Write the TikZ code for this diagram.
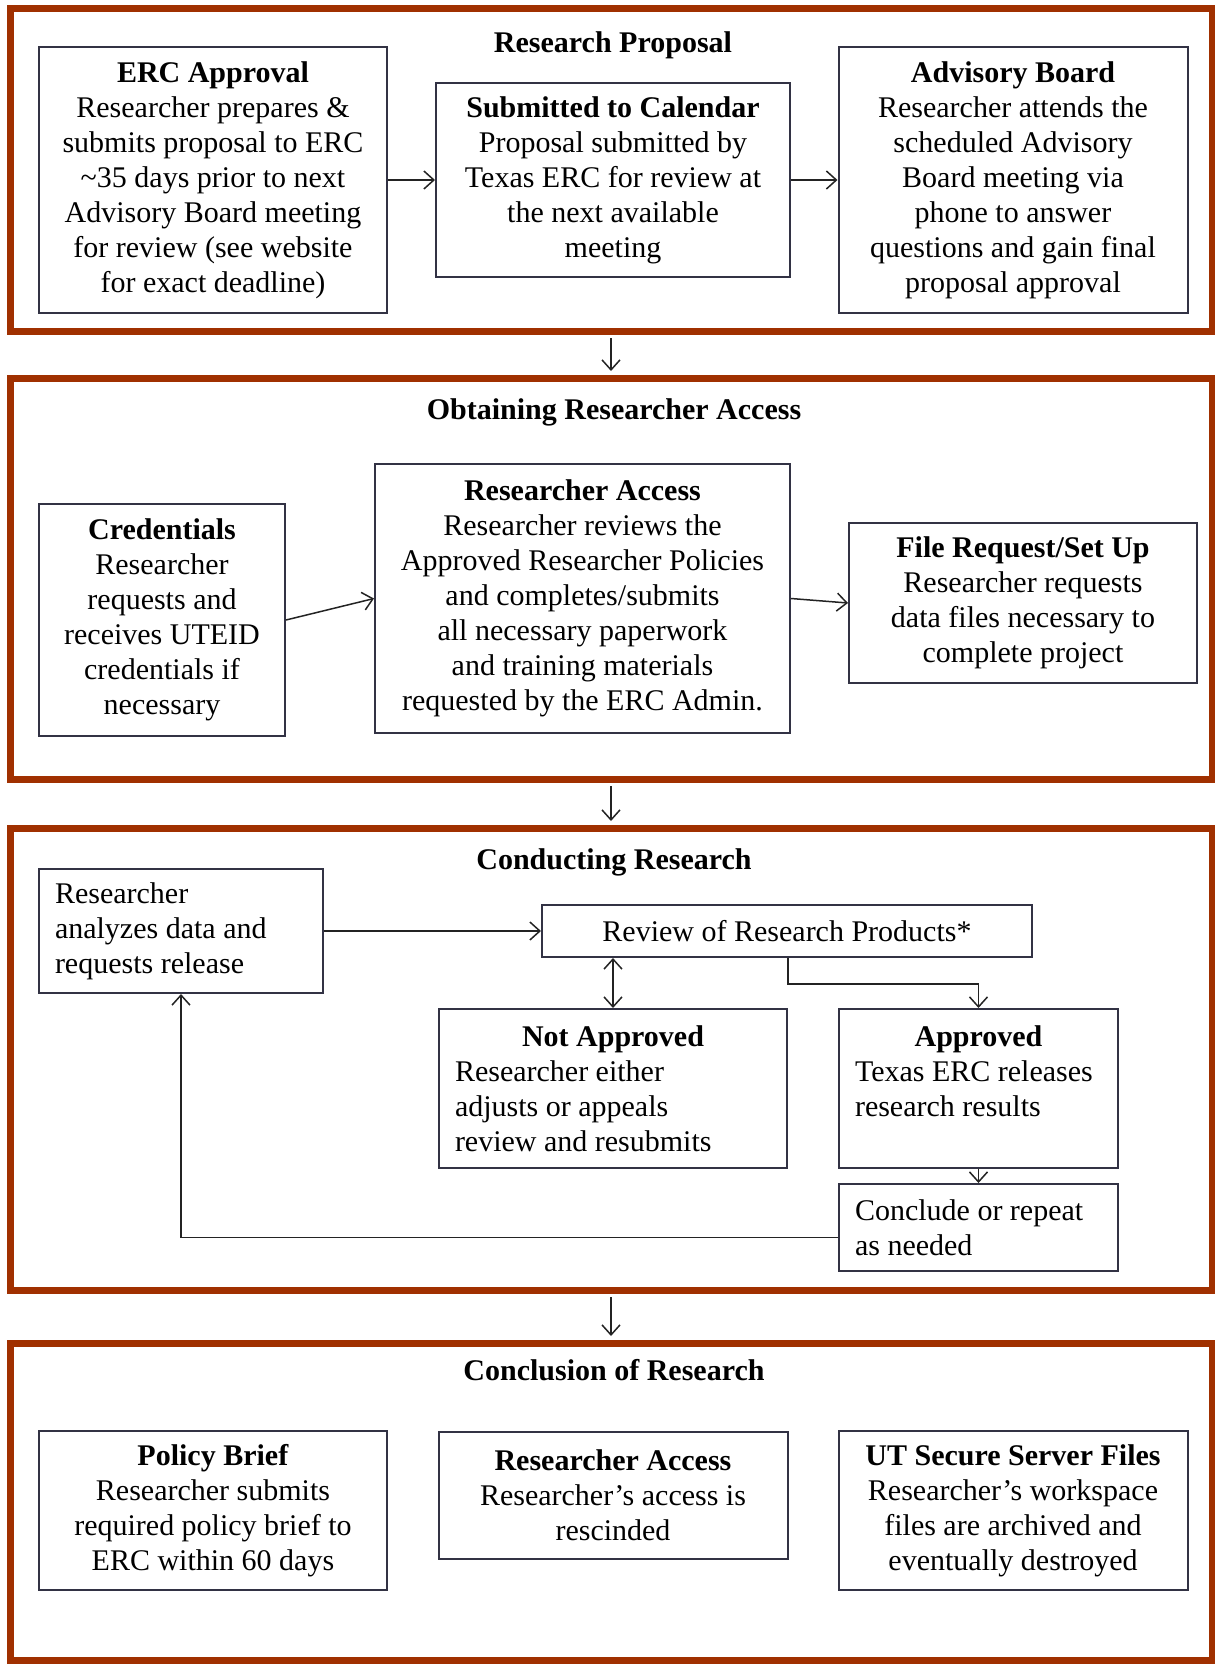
\documentclass[tikz,border=0pt]{standalone}
\usepackage{fontspec}
\setmainfont{Liberation Serif}
\usepackage{xcolor}
\usetikzlibrary{arrows.meta}
\definecolor{panelRed}{RGB}{160,48,0}
\definecolor{boxGray}{RGB}{50,50,68}
\definecolor{lineGray}{RGB}{35,35,35}
\newcommand{\stepFont}{\fontsize{15}{17.5}\selectfont}
\tikzstyle{fPanel} = [rectangle, draw=panelRed, line width=3.5pt, minimum width=601pt, inner sep=0pt]
\tikzstyle{fTitle} = [font=\stepFont\bfseries, inner sep=0pt]
\tikzstyle{fStep} = [rectangle, draw=boxGray, line width=1pt, fill=white, align=center, font=\stepFont, inner sep=0pt]
\tikzstyle{fNote} = [fStep, align=flush left, inner xsep=8pt]
\tikzstyle{fArrow} = [line width=0.75pt, draw=lineGray, >={Straight Barb[length=5pt,width=9pt]}, ->]
\tikzstyle{fStage} = [fArrow, shorten <=1.75pt, shorten >=1.75pt]

\begin{document}
\begin{tikzpicture}[x=0.5pt, y=-0.5pt, node distance=200pt]
    \useasboundingbox (0,0) rectangle (1215,1665);
    \node (proposalPanel) [fPanel, minimum height=161.5pt] at (611,169.5) {};
    \node (accessPanel) [fPanel, minimum height=200.5pt] at (611,578.5) {};
    \node (conductPanel) [fPanel, minimum height=231pt] at (611,1059) {};
    \node (conclusionPanel) [fPanel, minimum height=158.5pt] at (611,1501.5) {};

    \node (proposalTitle) [fTitle] at (613,45) {Research Proposal};
    \node (accessTitle) [fTitle] at (614,412) {Obtaining Researcher Access};
    \node (conductTitle) [fTitle] at (614,862) {Conducting Research};
    \node (conclusionTitle) [fTitle] at (614,1370) {Conclusion of Research};

    \node (ercApproval) [fStep, minimum width=174pt, minimum height=133pt] at (213,180) {\textbf{ERC Approval}\\Researcher prepares \&\\submits proposal to ERC\\\textasciitilde35 days prior to next\\Advisory Board meeting\\for review (see website\\for exact deadline)};
    \node (submitCal) [fStep, right of=ercApproval, minimum width=177pt, minimum height=97pt] {\textbf{Submitted to Calendar}\\Proposal submitted by\\Texas ERC for review at\\the next available\\meeting};
    \node (advisoryBoard) [fStep, right of=submitCal, minimum width=174.5pt, minimum height=133pt] {\textbf{Advisory Board}\\Researcher attends the\\scheduled Advisory\\Board meeting via\\phone to answer\\questions and gain final\\proposal approval};

    \node (credentials) [fStep, minimum width=123pt, minimum height=116pt] at (162,620) {\textbf{Credentials}\\Researcher\\requests and\\receives UTEID\\credentials if\\necessary};
    \node (researcherAccess) [fStep, minimum width=207.5pt, minimum height=134.5pt] at (582.5,598.5) {\textbf{Researcher Access}\\Researcher reviews the\\Approved Researcher Policies\\and completes/submits\\all necessary paperwork\\and training materials\\requested by the ERC Admin.};
    \node (fileRequest) [fStep, minimum width=174pt, minimum height=80pt] at (1023,603) {\textbf{File Request/Set Up}\\Researcher requests\\data files necessary to\\complete project};

    \node (analyzeData) [fNote, text width=126pt, minimum height=62pt] at (181,931) {Researcher\\analyzes data and\\requests release};
    \node (reviewProducts) [fStep, minimum width=245pt, minimum height=26pt] at (787,931) {Review of Research Products*};
    \node (notApproved) [fNote, text width=158pt, minimum height=79.5pt] at (613,1088.5) {\makebox[\hsize]{\textbf{Not Approved}}\\Researcher either\\adjusts or appeals\\review and resubmits};
    \node (approved) [fNote, text width=123.5pt, minimum height=79.5pt] at (978.5,1088.5) {\makebox[\hsize]{\textbf{Approved}}\\Texas ERC releases\\research results\\\mbox{}};
    \node (concludeRepeat) [fNote, below of=approved, node distance=69.5pt, text width=123.5pt, minimum height=43.5pt] {Conclude or repeat\\as needed};

    \node (policyBrief) [fStep, minimum width=174pt, minimum height=79.5pt] at (213,1510.5) {\textbf{Policy Brief}\\Researcher submits\\required policy brief to\\ERC within 60 days};
    \node (accessRescind) [fStep, right of=policyBrief, yshift=7.5pt, minimum width=174.5pt, minimum height=63.5pt] {\textbf{Researcher Access}\\Researcher’s access is\\rescinded};
    \node (serverFiles) [fStep, right of=accessRescind, yshift=-7.5pt, minimum width=174.5pt, minimum height=79.5pt] {\textbf{UT Secure Server Files}\\Researcher’s workspace\\files are archived and\\eventually destroyed};

    \draw [fArrow] (ercApproval) -- (submitCal);
    \draw [fArrow] (submitCal) -- (advisoryBoard);
    \draw [fStage] (proposalPanel.south) -- (accessPanel.north);
    \draw [fArrow] (credentials.east) -- (researcherAccess.west);
    \draw [fArrow] (researcherAccess.east) -- (fileRequest.west);
    \draw [fStage] (accessPanel.south) -- (conductPanel.north);
    \draw [fArrow] (analyzeData) -- (reviewProducts);
    \draw [fArrow, <->] (notApproved.north) -- (notApproved.north |- reviewProducts.south);
    \draw [fArrow] (notApproved.east |- reviewProducts.south) -- ++(0,26) -| (approved.north);
    \draw [fArrow] (approved) -- (concludeRepeat);
    \draw [fArrow] ([yshift=-5pt]concludeRepeat.west) -| (analyzeData.south);
    \draw [fStage] (conductPanel.south) -- (conclusionPanel.north);
\end{tikzpicture}
\end{document}
